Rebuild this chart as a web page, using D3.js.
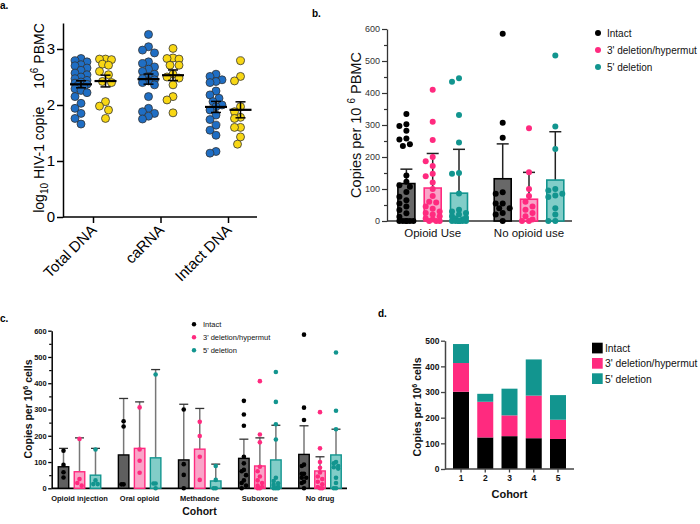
<!DOCTYPE html>
<html><head><meta charset="utf-8">
<script src="https://cdn.jsdelivr.net/npm/d3@7/dist/d3.min.js"></script>
<style>
body{margin:0;background:#fff}
svg{display:block}
text{font-family:"Liberation Sans",Arial,Helvetica,sans-serif}
</style>
</head><body>
<svg id="chart" width="700" height="524"></svg>
<script>
// ================= DATA =================
// Panel a (log10 HIV-1 copies / 10^6 PBMC)
const aCategories = ["Total DNA", "caRNA", "Intact DNA"];
const aYTicks = [0, 1, 2, 3];
const aBlueTotalDNA = [2.83,2.79,2.77,2.72,2.70,2.66,2.62,2.57,2.54,2.50,2.47,2.44,2.41,2.39,2.37,2.35,2.32,2.29,2.26,2.22,2.15,2.03,1.94,1.85,1.76,1.66];
const aYellowTotalDNA = [2.82,2.82,2.81,2.73,2.71,2.60,2.54,2.42,2.40,2.06,1.98,1.91,1.76];
const aBlueCaRNA = [3.26,3.04,2.98,2.93,2.77,2.74,2.68,2.64,2.60,2.55,2.50,2.47,2.45,2.43,2.40,2.36,2.15,1.94,1.88,1.85,1.80,1.75];
const aYellowCaRNA = [3.01,2.84,2.83,2.82,2.71,2.71,2.55,2.50,2.48,2.36,2.15,2.09,1.86];
const aBlueIntact = [2.55,2.51,2.45,2.42,2.40,2.25,2.18,2.12,2.06,2.00,1.97,1.91,1.82,1.74,1.64,1.55,1.46,1.17,1.14];
const aYellowIntact = [2.79,2.51,2.43,1.97,1.88,1.78,1.76,1.60,1.60,1.43,1.30];

// Panel b (copies per 10^6 PBMC)
const bGroups = ["Opioid Use", "No opioid use"];
const bSeries = ["Intact", "3' deletion/hypermut", "5' deletion"];
const bYTicks = [0, 100, 200, 300, 400, 500, 600];
const bMeanIntact = [117, 132];
const bMeanDel3 = [103, 68];
const bMeanDel5 = [87, 128];
const bErrIntact = [162, 241];
const bErrDel3 = [211, 152];
const bErrDel5 = [224, 279];
const bIntactOpioid = [334,302,297,282,258,255,240,234,142,123,112,107,91,76,65,55,45,34,24,13,0,0,0,0,0,0];
const bDel3Opioid = [410,310,253,200,187,172,148,140,120,100,78,60,58,45,38,30,25,20,15,8,5,0,0,0];
const bDel5Opioid = [446,435,331,245,150,148,86,35,30,25,20,15,10,8,5,0,0,0,0,0,0,0,0];
const bIntactNoOpioid = [585,307,260,90,85,55,55,40,40,25,20,0];
const bDel3NoOpioid = [290,152,100,78,60,45,35,25,15,5,0,0];
const bDel5NoOpioid = [517,295,225,100,95,85,80,75,40,20,0,0];

// Panel c (copies per 10^6 cells, by cohort)
const cGroups = ["Opioid injection", "Oral opioid", "Methadone", "Suboxone", "No drug"];
const cYTicks = [0, 100, 200, 300, 400, 500, 600];
const cMeanIntact = [82, 127, 108, 114, 129];
const cMeanDel3 = [63, 152, 149, 85, 66];
const cMeanDel5 = [50, 116, 28, 108, 127];
const cErrIntact = [152, 342, 320, 187, 238];
const cErrDel3 = [192, 329, 304, 192, 120];
const cErrDel5 = [152, 452, 92, 240, 225];
const cPtsIntact = [[143,89,61,41],[255,235,15,15],[300,92,51,0],[333,281,238,120,95,70,65,50,30,20,10,0],[585,307,260,90,85,55,55,40,40,25,20,0]];
const cPtsDel3 = [[188,35,20,10],[308,148,105,59],[253,199,120,32],[408,205,175,82,65,45,30,20,10,5,0,0],[290,152,100,78,60,45,35,25,15,5,0,0]];
const cPtsDel5 = [[148,30,16,16],[433,18,18,0],[85,32,0,0],[443,329,244,186,40,28,19,13,6,0,0,0],[517,295,225,100,95,85,80,75,40,20,0,0]];

// Panel d (stacked, by cohort)
const dCohorts = ["1", "2", "3", "4", "5"];
const dYTicks = [0, 100, 200, 300, 400, 500];
const dIntact = [301, 123, 128, 120, 117];
const dDel3 = [112, 139, 81, 166, 75];
const dDel5 = [74, 31, 104, 141, 96];

// ================= STYLE =================
const COL = {
  blue: "#1f6ec4", yellow: "#f8d714",
  black: "#000", pink: "#ff2a7f", teal: "#12958f",
  blackFill: "#686868", pinkFill: "#f9a4c8", tealFill: "#82cdc8"
};

const svg = d3.select("#chart");
svg.append("rect").attr("width", 700).attr("height", 524).attr("fill", "#fff");

// beeswarm-like layout of points (layout only)
function swarm(vals, yS, r, maxOff, step) {
  const pts = vals.map(v => ({ v, y: yS(v), x: 0 }));
  const order = pts.slice().sort((a, b) => a.y - b.y);
  const cands = [0];
  for (let k = 1; k * step <= maxOff + 1e-9; k++) cands.push(-k * step, k * step);
  const placed = [];
  order.forEach(p => {
    let best = 0, bestD = -1;
    for (const c of cands) {
      let md = Infinity;
      for (const q of placed) { const d = Math.hypot(c - q.x, p.y - q.y); if (d < md) md = d; }
      if (md >= 2 * r) { best = c; bestD = md; break; }
      if (md > bestD) { bestD = md; best = c; }
    }
    p.x = best; placed.push(p);
  });
  return pts;
}

function panelLabel(t, x, y) {
  svg.append("text").attr("x", x).attr("y", y).attr("font-size", 10).attr("font-weight", "bold").text(t);
}

// ================= PANEL A =================
(function () {
  const g = svg.append("g");
  const x = d3.scalePoint().domain(aCategories).range([93, 228]);
  const y = d3.scaleLinear().domain([0, 3.464]).range([217, 23]);
  const yAx = g.append("g").attr("transform", "translate(63,0)")
    .call(d3.axisLeft(y).tickValues(aYTicks).tickSize(6).tickSizeOuter(0).tickPadding(2).tickFormat(d3.format("d")));
  yAx.select(".domain").attr("stroke", "#000").attr("stroke-width", 1.5);
  yAx.selectAll(".tick line").attr("stroke-width", 1.5);
  yAx.selectAll("text").attr("font-size", 15).attr("fill", "#000");

  const xAx = g.append("g").attr("transform", "translate(0,217)")
    .call(d3.axisBottom(x).tickSize(6).tickSizeOuter(0));
  xAx.select(".domain").remove();
  xAx.selectAll(".tick line").attr("stroke-width", 1.5);
  xAx.append("line").attr("x1", 63).attr("x2", 257).attr("stroke", "#000").attr("stroke-width", 1.5);
  xAx.selectAll(".tick text").attr("font-size", 15).attr("fill", "#000")
    .attr("x", 0).attr("y", 0).attr("dy", 0)
    .attr("text-anchor", "end").attr("transform", "translate(4,14) rotate(-45)");

  const lab = g.append("text").attr("transform", "translate(44,118) rotate(-90)")
    .attr("text-anchor", "middle").attr("font-size", 14).attr("fill", "#000");
  lab.append("tspan").text("log");
  lab.append("tspan").attr("font-size", 10).attr("dy", 4).text("10");
  lab.append("tspan").attr("dy", -4).text(" HIV-1 copie");
  lab.append("tspan").attr("dx", 18).text("10");
  lab.append("tspan").attr("font-size", 10).attr("dy", -6).text("6");
  lab.append("tspan").attr("dy", 6).text(" PBMC");

  const groups = [
    [aCategories[0], -12, aBlueTotalDNA, COL.blue],
    [aCategories[0], 12.5, aYellowTotalDNA, COL.yellow],
    [aCategories[1], -12, aBlueCaRNA, COL.blue],
    [aCategories[1], 12.5, aYellowCaRNA, COL.yellow],
    [aCategories[2], -12, aBlueIntact, COL.blue],
    [aCategories[2], 12.5, aYellowIntact, COL.yellow]
  ];
  groups.forEach(([cat, off, vals, col]) => {
    const cx = x(cat) + off;
    const pts = swarm(vals, y, 3.9, 8, 3);
    g.append("g").selectAll("circle").data(pts).join("circle")
      .attr("cx", d => cx + d.x).attr("cy", d => d.y).attr("r", 4)
      .attr("fill", col).attr("stroke", "#333").attr("stroke-width", 0.8);
    const m = d3.mean(vals), sem = d3.deviation(vals) / Math.sqrt(vals.length);
    const eg = g.append("g").attr("stroke", "#000");
    eg.append("line").attr("x1", cx).attr("x2", cx).attr("y1", y(m - sem)).attr("y2", y(m + sem)).attr("stroke-width", 1.5);
    [m - sem, m + sem].forEach(v => eg.append("line").attr("x1", cx - 5).attr("x2", cx + 5).attr("y1", y(v)).attr("y2", y(v)).attr("stroke-width", 1.5));
    eg.append("line").attr("x1", cx - 11).attr("x2", cx + 11).attr("y1", y(m)).attr("y2", y(m)).attr("stroke-width", 2.2);
  });
  panelLabel("a.", 0, 9);
})();

// ================= PANEL B =================
(function () {
  const g = svg.append("g");
  const y = d3.scaleLinear().domain([0, 600]).range([221, 29]);
  const x = d3.scalePoint().domain(bGroups).range([432.7, 529]);
  const xs = d3.scalePoint().domain(bSeries).range([-26.3, 26.3]);
  const bw = 17;
  const yAx = g.append("g").attr("transform", "translate(387,0)")
    .call(d3.axisLeft(y).tickValues(bYTicks).tickSize(5).tickSizeOuter(0).tickPadding(2));
  yAx.select(".domain").attr("stroke", "#333").attr("stroke-width", 1.3);
  yAx.selectAll(".tick line").attr("stroke", "#333").attr("stroke-width", 1.2);
  yAx.selectAll("text").attr("font-size", 9).attr("fill", "#333");
  g.append("g").attr("transform", "translate(387,0)")
    .call(d3.axisLeft(y).tickValues(d3.range(50, 600, 100)).tickSize(3).tickSizeOuter(0).tickFormat(""))
    .call(a => a.select(".domain").remove())
    .selectAll("line").attr("stroke", "#333").attr("stroke-width", 1.2);
  g.append("line").attr("x1", 387).attr("x2", 572).attr("y1", 221).attr("y2", 221).attr("stroke", "#333").attr("stroke-width", 1.3);

  const lab = g.append("text").attr("transform", "translate(361,125) rotate(-90)")
    .attr("text-anchor", "middle").attr("font-size", 14.5).attr("fill", "#111");
  lab.append("tspan").text("Copies per 10 ");
  lab.append("tspan").attr("font-size", 10).attr("dy", -6).text("6");
  lab.append("tspan").attr("dy", 6).text(" PBMC");

  g.selectAll(".xl").data(bGroups).join("text").attr("class", "xl")
    .attr("x", d => x(d)).attr("y", 237).attr("text-anchor", "middle")
    .attr("font-size", 11.5).attr("fill", "#111").text(d => d);

  const series = [
    { name: bSeries[0], mean: bMeanIntact, err: bErrIntact, pts: [bIntactOpioid, bIntactNoOpioid], fill: COL.blackFill, stroke: COL.black, pc: COL.black },
    { name: bSeries[1], mean: bMeanDel3, err: bErrDel3, pts: [bDel3Opioid, bDel3NoOpioid], fill: COL.pinkFill, stroke: COL.pink, pc: COL.pink },
    { name: bSeries[2], mean: bMeanDel5, err: bErrDel5, pts: [bDel5Opioid, bDel5NoOpioid], fill: COL.tealFill, stroke: COL.teal, pc: COL.teal }
  ];
  series.forEach(s => {
    bGroups.forEach((grp, gi) => {
      const cx = x(grp) + xs(s.name);
      g.append("line").attr("x1", cx).attr("x2", cx).attr("y1", y(s.mean[gi])).attr("y2", y(s.err[gi])).attr("stroke", "#222").attr("stroke-width", 1.5);
      g.append("line").attr("x1", cx - 6).attr("x2", cx + 6).attr("y1", y(s.err[gi])).attr("y2", y(s.err[gi])).attr("stroke", "#222").attr("stroke-width", 1.5);
      g.append("rect").attr("x", cx - bw / 2).attr("width", bw)
        .attr("y", y(s.mean[gi])).attr("height", y(0) - y(s.mean[gi]))
        .attr("fill", s.fill).attr("stroke", s.stroke).attr("stroke-width", 1.6);
      const pts = swarm(s.pts[gi], y, 3, 7, 3.5);
      g.append("g").selectAll("circle").data(pts).join("circle")
        .attr("cx", d => cx + d.x).attr("cy", d => d.y).attr("r", 3).attr("fill", s.pc);
    });
  });
  const lg = g.append("g");
  series.forEach((s, i) => {
    lg.append("circle").attr("cx", 598).attr("cy", 33 + i * 17).attr("r", 3).attr("fill", s.pc);
    lg.append("text").attr("x", 607).attr("y", 33 + i * 17 + 3.6).attr("font-size", 10).attr("fill", "#111").text(s.name);
  });
  panelLabel("b.", 312, 17);
})();

// ================= PANEL C =================
(function () {
  const g = svg.append("g");
  const y = d3.scaleLinear().domain([0, 600]).range([488.3, 330.7]);
  const x = d3.scalePoint().domain(cGroups).range([79.5, 320]);
  const xs = d3.scalePoint().domain(bSeries).range([-16, 16]);
  const bw = 10.5;
  const yAx = g.append("g").attr("transform", "translate(51.7,0)")
    .call(d3.axisLeft(y).tickValues(cYTicks).tickSize(3.5).tickSizeOuter(0).tickPadding(1.5));
  yAx.select(".domain").attr("stroke", "#000").attr("stroke-width", 1.5);
  yAx.selectAll(".tick line").attr("stroke-width", 1.3);
  yAx.selectAll("text").attr("font-size", 7.5).attr("font-weight", "bold").attr("fill", "#111");
  g.append("g").attr("transform", "translate(51.7,0)")
    .call(d3.axisLeft(y).tickValues(d3.range(50, 600, 100)).tickSize(2.5).tickSizeOuter(0).tickFormat(""))
    .call(a => a.select(".domain").remove())
    .selectAll("line").attr("stroke-width", 1.2);
  g.append("line").attr("x1", 51.7).attr("x2", 347).attr("y1", 488.3).attr("y2", 488.3).attr("stroke", "#000").attr("stroke-width", 1.8);

  const lab = g.append("text").attr("transform", "translate(32,409) rotate(-90)")
    .attr("text-anchor", "middle").attr("font-size", 10.5).attr("font-weight", "bold").attr("fill", "#111");
  lab.append("tspan").text("Copies per 10");
  lab.append("tspan").attr("font-size", 7).attr("dy", -4).text("6");
  lab.append("tspan").attr("dy", 4).text(" cells");

  g.selectAll(".xl").data(cGroups).join("text").attr("class", "xl")
    .attr("x", d => x(d)).attr("y", 500.5).attr("text-anchor", "middle")
    .attr("font-size", 7.5).attr("font-weight", "bold").attr("fill", "#111").text(d => d);
  g.append("text").attr("x", 199.5).attr("y", 515).attr("text-anchor", "middle")
    .attr("font-size", 10.5).attr("font-weight", "bold").attr("fill", "#111").text("Cohort");

  const series = [
    { name: bSeries[0], mean: cMeanIntact, err: cErrIntact, pts: cPtsIntact, fill: "#5f5f5f", stroke: COL.black, pc: COL.black },
    { name: bSeries[1], mean: cMeanDel3, err: cErrDel3, pts: cPtsDel3, fill: COL.pinkFill, stroke: COL.pink, pc: COL.pink },
    { name: bSeries[2], mean: cMeanDel5, err: cErrDel5, pts: cPtsDel5, fill: COL.tealFill, stroke: COL.teal, pc: COL.teal }
  ];
  series.forEach(s => {
    cGroups.forEach((grp, gi) => {
      const cx = x(grp) + xs(s.name);
      g.append("line").attr("x1", cx).attr("x2", cx).attr("y1", y(s.mean[gi])).attr("y2", y(s.err[gi])).attr("stroke", "#777").attr("stroke-width", 1.5);
      g.append("line").attr("x1", cx - 4.5).attr("x2", cx + 4.5).attr("y1", y(s.err[gi])).attr("y2", y(s.err[gi])).attr("stroke", "#333").attr("stroke-width", 1.3);
      g.append("rect").attr("x", cx - bw / 2).attr("width", bw)
        .attr("y", y(s.mean[gi])).attr("height", y(0) - y(s.mean[gi]))
        .attr("fill", s.fill).attr("stroke", s.stroke).attr("stroke-width", 1.4);
      const pts = swarm(s.pts[gi], y, 2.3, 4, 2.2);
      g.append("g").selectAll("circle").data(pts).join("circle")
        .attr("cx", d => cx + d.x).attr("cy", d => d.y).attr("r", 2.3).attr("fill", s.pc);
    });
  });
  const lg = g.append("g");
  series.forEach((s, i) => {
    lg.append("circle").attr("cx", 194).attr("cy", 324.3 + i * 13).attr("r", 2.2).attr("fill", s.pc);
    lg.append("text").attr("x", 203).attr("y", 324.3 + i * 13 + 2.7).attr("font-size", 7.5).attr("fill", "#111").text(s.name);
  });
  panelLabel("c.", 0, 322);
})();

// ================= PANEL D =================
(function () {
  const g = svg.append("g");
  const y = d3.scaleLinear().domain([0, 500]).range([469, 340.7]);
  const x = d3.scaleBand().domain(dCohorts).range([445, 574]).paddingInner(0.34).paddingOuter(0.33);
  const keys = ["Intact", "3' deletion/hypermut", "5' deletion"];
  const cols = [COL.black, COL.pink, COL.teal];
  const rows = dCohorts.map((c, i) => ({ cohort: c, [keys[0]]: dIntact[i], [keys[1]]: dDel3[i], [keys[2]]: dDel5[i] }));
  const stacked = d3.stack().keys(keys)(rows);

  stacked.forEach((layer, li) => {
    g.append("g").selectAll("rect").data(layer).join("rect")
      .attr("x", d => x(d.data.cohort)).attr("width", x.bandwidth())
      .attr("y", d => y(d[1])).attr("height", d => y(d[0]) - y(d[1]))
      .attr("fill", cols[li]);
  });

  const yAx = g.append("g").attr("transform", "translate(445,0)")
    .call(d3.axisLeft(y).tickValues(dYTicks).tickSize(4).tickSizeOuter(0).tickPadding(1.5));
  yAx.select(".domain").attr("stroke", "#444").attr("stroke-width", 1.5);
  yAx.selectAll(".tick line").attr("stroke", "#444").attr("stroke-width", 1.3);
  yAx.selectAll("text").attr("font-size", 8.5).attr("font-weight", "bold").attr("fill", "#111");

  const xAx = g.append("g").attr("transform", "translate(0,469)")
    .call(d3.axisBottom(x).tickSize(3.5).tickSizeOuter(0).tickPadding(2));
  xAx.select(".domain").remove();
  xAx.append("line").attr("x1", 445).attr("x2", 574).attr("stroke", "#444").attr("stroke-width", 1.5);
  xAx.selectAll(".tick line").attr("stroke", "#444").attr("stroke-width", 1.3);
  xAx.selectAll(".tick text").attr("font-size", 8.5).attr("font-weight", "bold").attr("fill", "#111");

  g.append("text").attr("x", 509.5).attr("y", 497.5).attr("text-anchor", "middle")
    .attr("font-size", 11).attr("font-weight", "bold").attr("fill", "#111").text("Cohort");

  const lab = g.append("text").attr("transform", "translate(421,407) rotate(-90)")
    .attr("text-anchor", "middle").attr("font-size", 10.5).attr("font-weight", "bold").attr("fill", "#111");
  lab.append("tspan").text("Copies per 10");
  lab.append("tspan").attr("font-size", 7).attr("dy", -4).text("6");
  lab.append("tspan").attr("dy", 4).text(" cells");

  const lg = g.append("g");
  keys.forEach((k, i) => {
    lg.append("rect").attr("x", 592).attr("y", 342.7 + i * 15.3).attr("width", 10.7).attr("height", 10.7).attr("fill", cols[i]);
    lg.append("text").attr("x", 605).attr("y", 342.7 + i * 15.3 + 9.3).attr("font-size", 10.3).attr("fill", "#111").text(k);
  });
  panelLabel("d.", 378, 317);
})();
</script>
</body></html>
